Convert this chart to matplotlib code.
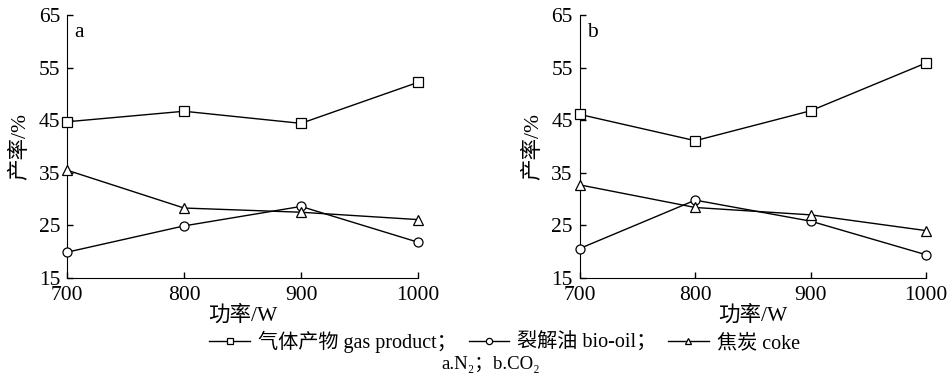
import numpy as np
import matplotlib
matplotlib.use('Agg')
import matplotlib.pyplot as plt
from matplotlib.lines import Line2D

plt.rcParams['font.family'] = ['Liberation Serif', 'Noto Sans CJK SC']
plt.rcParams['axes.unicode_minus'] = False

power = [700, 800, 900, 1000]

# a: N2
gas_a = [44.7, 46.7, 44.4, 52.2]
oil_a = [19.9, 24.9, 28.6, 21.8]
coke_a = [35.5, 28.3, 27.5, 26.1]

# b: CO2
gas_b = [46.1, 41.1, 46.8, 55.9]
oil_b = [20.6, 29.8, 25.8, 19.4]
coke_b = [32.7, 28.4, 27.0, 24.0]

series_names = ['气体产物 gas product；', '裂解油 bio-oil；', '焦炭 coke']
markers = ['s', 'o', '^']
yticks = [15, 25, 35, 45, 55, 65]

fig = plt.figure(figsize=(9.52, 3.85), dpi=100)
ax_a = fig.add_axes([0.0704, 0.278, 0.3687, 0.683])
ax_b = fig.add_axes([0.609, 0.278, 0.364, 0.683])

fs = 15.5
for ax, data, tag in [(ax_a, (gas_a, oil_a, coke_a), 'a'),
                      (ax_b, (gas_b, oil_b, coke_b), 'b')]:
    for vals, m in zip(data, markers):
        ax.plot(power, vals, color='black', lw=1, marker=m, ms=6.5,
                mfc='white', mec='black', mew=0.9, clip_on=False, zorder=3)
    ax.set_xlim(700, 1000)
    ax.set_ylim(15, 65)
    ax.set_xticks(power)
    ax.set_yticks(yticks)
    ax.spines['top'].set_visible(False)
    ax.spines['right'].set_visible(False)
    ax.tick_params(direction='in', length=4, width=1, labelsize=fs)
    ax.tick_params(axis='y', pad=5)
    ax.tick_params(axis='x', pad=6)
    ax.set_xlabel('功率/W', fontsize=fs, labelpad=0)
    ax.set_ylabel('产率/%', fontsize=fs, labelpad=6)
    ax.text(0.02, 0.97, tag, transform=ax.transAxes, fontsize=fs,
            va='top', ha='left')

handles = [Line2D([], [], color='black', lw=1, marker=m, ms=4.5, mfc='white',
                  mec='black', mew=0.9) for m in markers]
fig.legend(handles, series_names, loc='center', bbox_to_anchor=(0.53, 0.112),
           ncol=3, frameon=False, fontsize=14.5, handlelength=2.0,
           handletextpad=0.4, columnspacing=0.6)
fig.text(0.515, 0.052, 'a.N₂；b.CO₂', ha='center', va='center', fontsize=13.5)

fig.savefig('out.png', dpi=100)
